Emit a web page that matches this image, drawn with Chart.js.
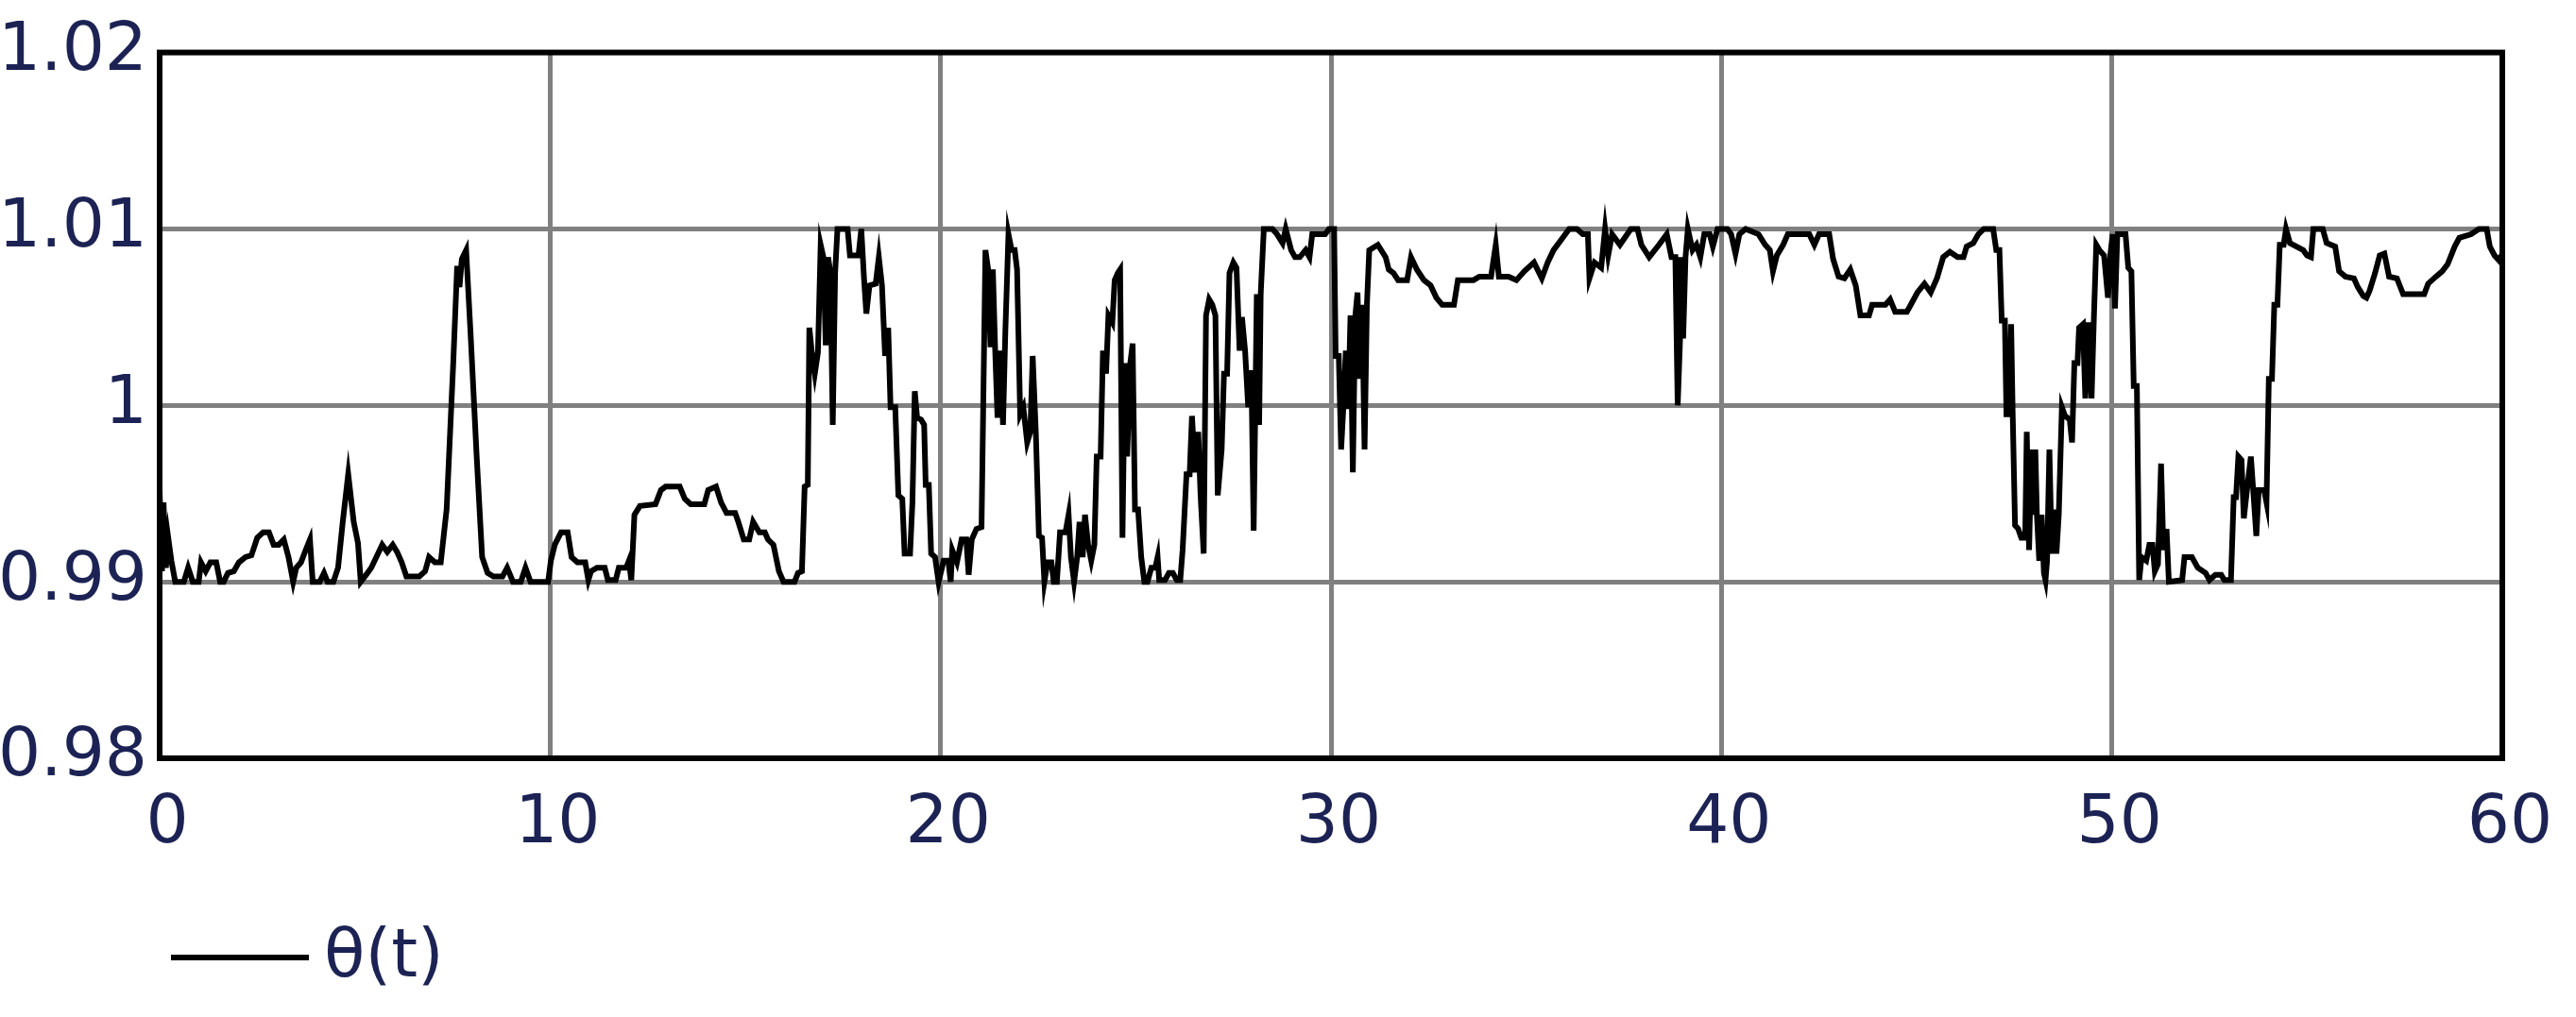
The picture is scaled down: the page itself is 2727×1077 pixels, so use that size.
<!DOCTYPE html>
<html>
<head>
<meta charset="utf-8">
<script src="https://cdn.jsdelivr.net/npm/chart.js@4.4.1/dist/chart.umd.min.js"></script>
<style>
  html, body { margin: 0; padding: 0; background: #fff; }
  canvas { display: block; }
</style>
</head>
<body>
<canvas id="thetaChart" width="2727" height="1077"></canvas>
<script>
// θ(t), t in [0, 60]
const tValues = [
  0.00, 0.06, 0.10, 0.16, 0.22, 0.30, 0.40, 0.62, 0.73, 0.85, 1.00, 1.06, 1.18, 1.30, 1.45, 1.55, 1.64, 1.75, 1.90, 2.03,
  2.20, 2.35, 2.50, 2.65, 2.80, 2.92, 3.05, 3.18, 3.30, 3.42, 3.50, 3.62, 3.74, 3.85, 3.92, 4.10, 4.21, 4.30, 4.45, 4.57,
  4.69, 4.83, 4.97, 5.08, 5.15, 5.29, 5.42, 5.55, 5.70, 5.83, 5.97, 6.08, 6.20, 6.32, 6.65, 6.80, 6.90, 7.05, 7.20, 7.35,
  7.52, 7.62, 7.68, 7.74, 7.85, 7.97, 8.12, 8.26, 8.40, 8.55, 8.78, 8.90, 9.05, 9.25, 9.37, 9.50, 9.95,
  10.02, 10.12, 10.28, 10.45, 10.55, 10.70, 10.90, 10.98, 11.05, 11.20, 11.40, 11.48, 11.68, 11.76, 11.95, 12.02, 12.08, 12.16,
  12.30, 12.70, 12.84, 12.96, 13.32, 13.45, 13.60, 13.95, 14.05, 14.25, 14.38, 14.52, 14.74, 14.82, 14.96, 15.10, 15.20, 15.36,
  15.50, 15.58, 15.72, 15.86, 15.98, 16.26, 16.35, 16.45,
  16.52, 16.60, 16.64, 16.70, 16.78, 16.86, 16.93, 17.00, 17.06, 17.12, 17.18, 17.24, 17.30, 17.36, 17.62, 17.68, 17.90, 17.97,
  18.04, 18.10, 18.18, 18.34, 18.42, 18.50, 18.58, 18.66, 18.72, 18.84, 18.92, 19.02, 19.08, 19.22, 19.28, 19.34, 19.40, 19.50,
  19.58, 19.62, 19.70, 19.76, 19.86, 19.95,
  20.08, 20.20, 20.26, 20.30, 20.42, 20.54, 20.66, 20.72, 20.80, 20.92, 21.05, 21.15, 21.22, 21.28, 21.34, 21.40, 21.46, 21.54,
  21.60, 21.66, 21.74, 21.82, 21.90, 21.96, 22.04, 22.12, 22.22, 22.30, 22.36, 22.44, 22.52, 22.60, 22.66, 22.74, 22.84, 22.90,
  22.98, 23.06, 23.20, 23.28, 23.34, 23.42, 23.50, 23.56, 23.64, 23.70, 23.78, 23.86, 23.94, 24.00, 24.10, 24.16, 24.24, 24.30,
  24.40, 24.46, 24.54, 24.60, 24.66, 24.72, 24.78, 24.86, 24.92, 24.98, 25.06, 25.14, 25.22, 25.30, 25.40, 25.50, 25.56, 25.60,
  25.75, 25.85, 25.95, 26.05, 26.14, 26.20, 26.30, 26.38, 26.44, 26.52, 26.60, 26.66, 26.74, 26.80, 26.88, 26.96, 27.04, 27.10,
  27.20, 27.26, 27.34, 27.40, 27.50, 27.58, 27.66, 27.72, 27.80, 27.88, 27.96, 28.02, 28.10, 28.16, 28.20, 28.28, 28.50, 28.62,
  28.76, 28.84, 28.98, 29.08,
  29.20, 29.35, 29.45, 29.52, 29.85, 29.95, 30.08, 30.12, 30.20, 30.26, 30.32, 30.38, 30.44, 30.50, 30.56, 30.62, 30.68, 30.74,
  30.80, 30.86, 30.92, 30.98, 31.20, 31.40, 31.48, 31.60, 31.72, 31.95, 32.05, 32.20, 32.38, 32.55, 32.70, 32.85, 33.15, 33.25,
  33.65, 33.80, 34.10, 34.22, 34.30, 34.55, 34.75, 34.95, 35.20, 35.40, 35.55, 35.70, 35.90, 36.10, 36.30, 36.45, 36.58, 36.62,
  36.75, 36.92, 37.02, 37.10, 37.20, 37.40, 37.68, 37.85, 37.95, 38.15, 38.40, 38.60, 38.72, 38.82, 38.88, 38.94, 38.96, 39.02,
  39.08, 39.14,
  39.26, 39.36, 39.46, 39.56, 39.70, 39.78, 39.90, 40.15, 40.25, 40.36, 40.46, 40.62, 40.95, 41.12, 41.24, 41.32, 41.42, 41.58,
  41.70, 42.25, 42.38, 42.50, 42.76, 42.86, 43.00, 43.15, 43.30, 43.44, 43.56, 43.78, 43.86, 44.20, 44.32, 44.45, 44.75, 44.85,
  45.02, 45.20, 45.36, 45.52, 45.68, 45.85, 46.05, 46.20, 46.28, 46.45, 46.58, 46.72, 46.96, 47.04, 47.12, 47.18, 47.26, 47.30,
  47.38, 47.42, 47.46, 47.52, 47.60, 47.68, 47.78, 47.82, 47.88, 47.94, 48.00, 48.04, 48.08, 48.14, 48.20,
  48.26, 48.30, 48.34, 48.40, 48.46, 48.52, 48.58, 48.64, 48.72, 48.80, 48.92, 48.98, 49.04, 49.12, 49.16, 49.26, 49.32, 49.40,
  49.48, 49.54, 49.60, 49.68, 49.80, 49.90, 49.96, 50.02, 50.08, 50.14, 50.35, 50.42, 50.50, 50.56, 50.64, 50.70, 50.76, 50.88,
  50.96, 51.04, 51.10, 51.18, 51.26, 51.32, 51.40, 51.46, 51.80, 51.86, 52.05, 52.20, 52.40, 52.50, 52.65, 52.80, 52.88, 53.05,
  53.12, 53.18, 53.24, 53.32, 53.38, 53.46, 53.56, 53.62, 53.70, 53.76, 53.90, 53.96, 54.02, 54.10, 54.16, 54.24, 54.30, 54.40,
  54.46, 54.56, 54.90, 55.00, 55.10, 55.16, 55.40, 55.50, 55.72, 55.82, 55.98, 56.20, 56.30, 56.44, 56.52, 56.60, 56.74, 56.86,
  56.98, 57.10, 57.30, 57.46, 58.00, 58.10, 58.30, 58.46, 58.60, 58.78, 58.90, 59.20, 59.40, 59.60, 59.68, 59.80, 59.92, 60.00
];
const thetaValues = [
  0.9952, 0.9906, 0.9945, 0.9908, 0.9925, 0.9912, 0.9900, 0.9900, 0.9908, 0.9900, 0.9900, 0.9911, 0.9906, 0.9911, 0.9911, 0.9900, 0.9900, 0.9905, 0.9906, 0.9911,
  0.9914, 0.9915, 0.9925, 0.9928, 0.9928, 0.9921, 0.9921, 0.9924, 0.9914, 0.9900, 0.9908, 0.9911, 0.9918, 0.9924, 0.9900, 0.9900, 0.9905, 0.9900, 0.9900, 0.9908,
  0.9934, 0.9961, 0.9934, 0.9922, 0.9900, 0.9904, 0.9908, 0.9914, 0.9921, 0.9917, 0.9921, 0.9917, 0.9911, 0.9903, 0.9903, 0.9906, 0.9914, 0.9911, 0.9911, 0.9941,
  1.0024, 1.0079, 1.0067, 1.0083, 1.0088, 1.0038, 0.9971, 0.9914, 0.9905, 0.9903, 0.9903, 0.9908, 0.9900, 0.9900, 0.9908, 0.9900, 0.9900,
  0.9912, 0.9921, 0.9928, 0.9928, 0.9914, 0.9911, 0.9911, 0.9901, 0.9906, 0.9908, 0.9908, 0.9901, 0.9901, 0.9908, 0.9908, 0.9912, 0.9901, 0.9938,
  0.9943, 0.9944, 0.9952, 0.9954, 0.9954, 0.9947, 0.9944, 0.9944, 0.9952, 0.9954, 0.9945, 0.9939, 0.9939, 0.9934, 0.9924, 0.9924, 0.9934, 0.9928,
  0.9928, 0.9924, 0.9921, 0.9906, 0.9900, 0.9900, 0.9905, 0.9906,
  0.9954, 0.9955, 1.0044, 1.0031, 1.0018, 1.0030, 1.0091, 1.0084, 1.0034, 1.0084, 1.0075, 0.9989, 1.0075, 1.0100, 1.0100, 1.0085, 1.0085, 1.0100,
  1.0072, 1.0052, 1.0068, 1.0069, 1.0084, 1.0068, 1.0028, 1.0044, 0.9999, 0.9999, 0.9949, 0.9947, 0.9916, 0.9916, 0.9945, 1.0008, 0.9993, 0.9992,
  0.9989, 0.9955, 0.9955, 0.9916, 0.9914, 0.9900,
  0.9912, 0.9912, 0.9900, 0.9918, 0.9911, 0.9924, 0.9924, 0.9904, 0.9924, 0.9930, 0.9931, 1.0088, 1.0077, 1.0033, 1.0077, 1.0031, 0.9993, 1.0031,
  0.9989, 1.0042, 1.0097, 1.0088, 1.0088, 1.0077, 0.9995, 0.9999, 0.9979, 0.9985, 1.0028, 0.9985, 0.9926, 0.9925, 0.9900, 0.9911, 0.9911, 0.9900,
  0.9900, 0.9928, 0.9928, 0.9938, 0.9914, 0.9900, 0.9914, 0.9934, 0.9914, 0.9938, 0.9921, 0.9912, 0.9921, 0.9971, 0.9971, 1.0031, 1.0018, 1.0051,
  1.0047, 1.0071, 1.0075, 1.0077, 0.9925, 1.0024, 0.9971, 1.0024, 1.0035, 0.9941, 0.9941, 0.9914, 0.9900, 0.9900, 0.9908, 0.9908, 0.9914, 0.9901,
  0.9901, 0.9905, 0.9905, 0.9901, 0.9901, 0.9918, 0.9961, 0.9961, 0.9994, 0.9962, 0.9985, 0.9949, 0.9916, 1.0051, 1.0060, 1.0057, 1.0051, 0.9949,
  0.9975, 1.0018, 1.0018, 1.0075, 1.0081, 1.0078, 1.0031, 1.0050, 1.0031, 0.9999, 1.0020, 0.9929, 1.0063, 0.9989, 1.0063, 1.0100, 1.0100, 1.0097,
  1.0092, 1.0100, 1.0088, 1.0084,
  1.0084, 1.0088, 1.0084, 1.0097, 1.0097, 1.0100, 1.0100, 1.0028, 1.0028, 0.9975, 1.0000, 1.0031, 0.9998, 1.0051, 0.9962, 1.0050, 1.0064, 1.0015,
  1.0057, 0.9975, 1.0057, 1.0088, 1.0091, 1.0084, 1.0077, 1.0075, 1.0071, 1.0071, 1.0084, 1.0077, 1.0071, 1.0068, 1.0061, 1.0057, 1.0057, 1.0071,
  1.0071, 1.0073, 1.0073, 1.0091, 1.0073, 1.0073, 1.0071, 1.0076, 1.0081, 1.0072, 1.0081, 1.0088, 1.0094, 1.0100, 1.0100, 1.0097, 1.0097, 1.0072,
  1.0081, 1.0078, 1.0100, 1.0085, 1.0097, 1.0091, 1.0100, 1.0100, 1.0091, 1.0084, 1.0091, 1.0097, 1.0084, 1.0084, 1.0000, 1.0037, 1.0084, 1.0038,
  1.0084, 1.0100,
  1.0088, 1.0091, 1.0084, 1.0097, 1.0097, 1.0090, 1.0100, 1.0100, 1.0097, 1.0086, 1.0097, 1.0100, 1.0097, 1.0091, 1.0088, 1.0076, 1.0085, 1.0091,
  1.0097, 1.0097, 1.0091, 1.0097, 1.0097, 1.0083, 1.0073, 1.0072, 1.0077, 1.0068, 1.0051, 1.0051, 1.0057, 1.0057, 1.0060, 1.0053, 1.0053, 1.0057,
  1.0064, 1.0069, 1.0064, 1.0072, 1.0084, 1.0087, 1.0084, 1.0084, 1.0090, 1.0092, 1.0097, 1.0100, 1.0100, 1.0088, 1.0088, 1.0048, 1.0048, 0.9995,
  0.9995, 1.0046, 0.9995, 0.9932, 0.9930, 0.9925, 0.9925, 0.9985, 0.9918, 0.9975, 0.9938, 0.9975, 0.9938, 0.9912, 0.9938,
  0.9905, 0.9901, 0.9912, 0.9975, 0.9916, 0.9941, 0.9916, 0.9938, 0.9999, 0.9994, 0.9992, 0.9979, 1.0024, 1.0024, 1.0044, 1.0046, 1.0004, 1.0047,
  1.0004, 1.0050, 1.0091, 1.0088, 1.0085, 1.0061, 1.0085, 1.0097, 1.0055, 1.0097, 1.0097, 1.0078, 1.0076, 1.0011, 1.0011, 0.9901, 0.9914, 0.9912,
  0.9921, 0.9921, 0.9906, 0.9910, 0.9967, 0.9918, 0.9930, 0.9900, 0.9901, 0.9914, 0.9914, 0.9908, 0.9905, 0.9901, 0.9904, 0.9904, 0.9901, 0.9901,
  0.9948, 0.9948, 0.9971, 0.9969, 0.9936, 0.9952, 0.9971, 0.9952, 0.9926, 0.9952, 0.9952, 0.9945, 1.0015, 1.0015, 1.0057, 1.0057, 1.0091, 1.0091,
  1.0100, 1.0092, 1.0088, 1.0085, 1.0084, 1.0100, 1.0100, 1.0092, 1.0090, 1.0076, 1.0073, 1.0072, 1.0067, 1.0062, 1.0061, 1.0065, 1.0075, 1.0085,
  1.0086, 1.0073, 1.0072, 1.0063, 1.0063, 1.0069, 1.0073, 1.0076, 1.0080, 1.0090, 1.0095, 1.0097, 1.0100, 1.0100, 1.0090, 1.0085, 1.0082, 1.0086
];
const xTicks = [0, 10, 20, 30, 40, 50, 60];
const yTicks = [0.98, 0.99, 1, 1.01, 1.02];
const seriesLabel = 'θ(t)';

var textColor = '#1c2354';
var tickFont = { family: '"DejaVu Sans", Verdana, sans-serif', size: 71 };

// frame round the plot area + the little line legend under it
var frameAndLegend = {
  id: 'frameAndLegend',
  afterDraw: function(chart) {
    var ctx = chart.ctx, a = chart.chartArea;
    ctx.save();
    ctx.strokeStyle = '#000';
    ctx.lineWidth = 6;
    ctx.strokeRect(a.left, a.top, a.right - a.left, a.bottom - a.top);

    ctx.beginPath();
    ctx.moveTo(181, 1014);
    ctx.lineTo(327, 1014);
    ctx.lineWidth = 6;
    ctx.stroke();
    ctx.fillStyle = textColor;
    ctx.font = tickFont.size + 'px ' + tickFont.family;
    ctx.textBaseline = 'middle';
    ctx.fillText(chart.data.datasets[0].label, 343, 1016);
    ctx.restore();
  }
};

new Chart(document.getElementById('thetaChart'), {
  type: 'line',
  data: {
    datasets: [{
      label: seriesLabel,
      data: tValues.map(function(t, i) { return { x: t, y: thetaValues[i] }; }),
      borderColor: '#000',
      borderWidth: 6,
      pointRadius: 0,
      tension: 0,
      fill: false
    }]
  },
  options: {
    responsive: false,
    animation: false,
    layout: { padding: { top: 52, right: 78, bottom: 0, left: 0 } },
    plugins: { legend: { display: false }, tooltip: { enabled: false } },
    scales: {
      x: {
        type: 'linear',
        min: 0, max: 60,
        afterBuildTicks: function(scale) { scale.ticks = xTicks.map(function(v) { return { value: v }; }); },
        afterFit: function(scale) { scale.height = 274; },
        grid: { color: '#808080', lineWidth: 5, drawTicks: false },
        border: { display: false },
        ticks: { color: textColor, font: tickFont, padding: 28, labelOffset: 8, maxRotation: 0 }
      },
      y: {
        type: 'linear',
        min: 0.98, max: 1.02,
        afterBuildTicks: function(scale) { scale.ticks = yTicks.map(function(v) { return { value: v }; }); },
        afterFit: function(scale) { scale.width = 169; },
        grid: { color: '#808080', lineWidth: 5, drawTicks: false },
        border: { display: false },
        ticks: {
          color: textColor, font: tickFont, padding: 13,
          callback: function(v) { return String(+Number(v).toFixed(2)); }
        }
      }
    }
  },
  plugins: [frameAndLegend]
});
</script>
</body>
</html>
